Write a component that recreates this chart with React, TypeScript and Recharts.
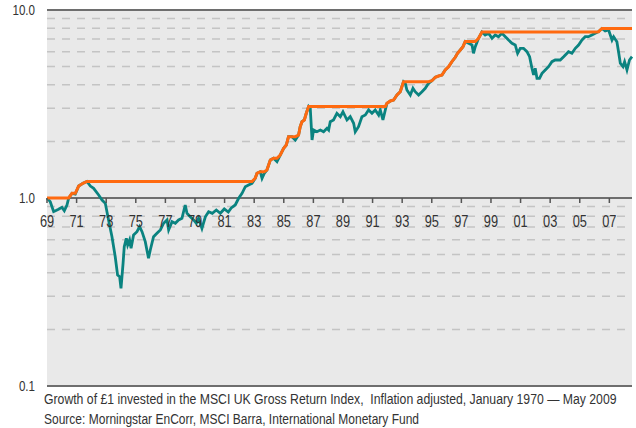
import React from 'react';
import {
  LineChart,
  Line,
  XAxis,
  YAxis,
  CartesianGrid,
  ReferenceLine,
  ReferenceDot,
} from 'recharts';

// decimal years, Jan 1970 – May 2009
const years = [
  1970.0, 1970.22, 1970.45, 1970.78, 1971.01, 1971.17, 1971.35, 1971.46, 1971.69, 1971.91,
  1972.14, 1972.43, 1972.7, 1972.93, 1973.15, 1973.49, 1973.72, 1973.94, 1974.16, 1974.39,
  1974.61, 1974.77, 1974.91, 1975.0, 1975.14, 1975.22, 1975.36, 1975.45, 1975.58, 1975.68,
  1975.85, 1976.08, 1976.26, 1976.42, 1976.64, 1976.86, 1976.98, 1977.2, 1977.43, 1977.66,
  1977.88, 1978.11, 1978.22, 1978.45, 1978.67, 1978.89, 1979.12, 1979.34, 1979.46, 1979.68,
  1979.91, 1980.09, 1980.24, 1980.47, 1980.7, 1980.92, 1981.17, 1981.44, 1981.71, 1981.98,
  1982.25, 1982.45, 1982.72, 1982.95, 1983.18, 1983.4, 1983.62, 1983.85, 1984.07, 1984.19,
  1984.41, 1984.53, 1984.68, 1984.86, 1985.09, 1985.31, 1985.54, 1985.76, 1985.99, 1986.17,
  1986.32, 1986.55, 1986.78, 1987.0, 1987.11, 1987.23, 1987.39, 1987.52, 1987.68, 1987.79,
  1987.91, 1988.01, 1988.24, 1988.47, 1988.69, 1988.92, 1989.03, 1989.14, 1989.36, 1989.59,
  1989.82, 1990.0, 1990.27, 1990.49, 1990.72, 1990.83, 1991.05, 1991.28, 1991.51, 1991.73,
  1991.96, 1992.18, 1992.41, 1992.52, 1992.7, 1992.86, 1992.97, 1993.2, 1993.42, 1993.65,
  1993.87, 1994.09, 1994.21, 1994.32, 1994.55, 1994.73, 1994.88, 1995.11, 1995.34, 1995.56,
  1995.78, 1996.01, 1996.24, 1996.46, 1996.69, 1996.91, 1997.14, 1997.36, 1997.59, 1997.74,
  1997.93, 1998.11, 1998.26, 1998.49, 1998.72, 1998.82, 1998.94, 1999.16, 1999.39, 1999.61,
  1999.84, 2000.07, 2000.29, 2000.51, 2000.74, 2000.97, 2001.19, 2001.42, 2001.64, 2001.8,
  2001.98, 2002.2, 2002.43, 2002.61, 2002.77, 2002.88, 2002.99, 2003.11, 2003.28, 2003.45,
  2003.67, 2003.89, 2004.12, 2004.34, 2004.68, 2004.91, 2005.24, 2005.47, 2005.7, 2005.92,
  2006.15, 2006.37, 2006.59, 2006.82, 2007.05, 2007.27, 2007.5, 2007.72, 2007.95, 2008.18,
  2008.29, 2008.51, 2008.62, 2008.74, 2008.92, 2009.03, 2009.19, 2009.36, 2009.53,
];

// growth of £1, inflation adjusted
const realValue = [
  1.0, 0.956, 0.846, 0.871, 0.892, 0.856, 0.918, 0.996, 1.059, 1.05,
  1.158, 1.197, 1.224, 1.158, 1.126, 1.037, 0.976, 0.937, 0.764, 0.622,
  0.487, 0.389, 0.381, 0.331, 0.449, 0.551, 0.61, 0.562, 0.598, 0.54,
  0.636, 0.662, 0.704, 0.662, 0.586, 0.478, 0.529, 0.622, 0.649, 0.676,
  0.734, 0.764, 0.676, 0.748, 0.734, 0.764, 0.78, 0.918, 0.829, 0.795,
  0.764, 0.734, 0.78, 0.69, 0.795, 0.846, 0.829, 0.863, 0.829, 0.874,
  0.842, 0.885, 0.918, 0.996, 1.059, 1.148, 1.172, 1.197, 1.273, 1.353,
  1.38, 1.273, 1.353, 1.409, 1.593, 1.626, 1.56, 1.693, 1.838, 1.914,
  2.119, 2.119, 2.035, 2.163, 2.395, 2.546, 2.6, 2.822, 3.067, 3.0,
  2.035, 2.3, 2.252, 2.3, 2.252, 2.348, 2.3, 2.546, 2.6, 2.822,
  2.706, 2.877, 2.6, 2.706, 2.496, 2.252, 2.395, 2.706, 2.763, 2.938,
  2.822, 2.938, 2.763, 2.938, 2.6, 2.938, 3.189, 3.281, 3.321, 3.531,
  3.676, 4.156, 4.075, 3.754, 3.531, 3.833, 3.676, 3.531, 3.676, 3.833,
  4.075, 4.207, 4.385, 4.456, 4.511, 4.797, 4.995, 5.309, 5.603, 5.884,
  6.127, 6.38, 6.8, 6.652, 6.515, 5.884, 6.38, 7.072, 7.64, 7.362,
  7.516, 7.072, 7.362, 7.211, 7.516, 7.211, 6.925, 6.652, 6.515, 5.884,
  6.256, 6.256, 6.0, 5.644, 4.897, 4.511, 4.897, 4.332, 4.332, 4.606,
  4.797, 4.995, 5.309, 5.42, 5.42, 5.644, 6.0, 5.884, 6.256, 6.515,
  6.925, 7.211, 7.211, 7.362, 7.516, 7.665, 7.973, 7.731, 7.827, 6.925,
  7.211, 6.784, 6.0, 5.206, 4.995, 5.309, 4.797, 5.42, 5.644,
];

const tickYears = [
  1970, 1972, 1974, 1976, 1978, 1980, 1982, 1984, 1986, 1988,
  1990, 1992, 1994, 1996, 1998, 2000, 2002, 2004, 2006, 2008,
];
const tickLabels = [
  '69', '71', '73', '75', '77', '79', '81', '83', '85', '87',
  '89', '91', '93', '95', '97', '99', '01', '03', '05', '07',
];

const yTicks = [0.1, 1, 10];
const majorLines = [0.1, 1, 10];
const minorLines = [0.2, 0.3, 0.4, 0.5, 0.6, 0.7, 0.8, 0.9, 2, 3, 4, 5, 6, 7, 8, 9];

const captionLines = [
  'Growth of £1 invested in the MSCI UK Gross Return Index,  Inflation adjusted, January 1970 — May 2009',
  'Source: Morningstar EnCorr, MSCI Barra, International Monetary Fund',
];

const FONT = "'Liberation Sans', Arial, sans-serif";
const SQUEEZE = 0.8; // condensed look

// previous high line = running maximum of the index
let high = 0;
const data = years.map((t, i) => {
  high = Math.max(high, realValue[i]);
  return { t, value: realValue[i], peak: high };
});

const NarrowText = ({ x, y, size, anchor, dy, squeeze = SQUEEZE, children }: any) => (
  <text
    transform={`translate(${x},${y}) scale(${squeeze},1)`}
    textAnchor={anchor}
    dy={dy}
    fill="#333"
    fontSize={size}
    fontFamily={FONT}
    style={{ whiteSpace: 'pre' }}
  >
    {children}
  </text>
);

const YearTick = (props: any) => {
  const { cx, cy, label } = props;
  return (
    <g>
      <line x1={cx} y1={cy} x2={cx} y2={cy + 5} stroke="#555" strokeWidth={1.5} />
      <NarrowText x={cx} y={cy + 29} size={16} anchor="middle">
        {label}
      </NarrowText>
    </g>
  );
};

const ValueTick = (props: any) => {
  const { x, y, payload } = props;
  const v = payload.value;
  return (
    <NarrowText x={x} y={y} size={14.5} anchor="end" dy="0.36em">
      {v >= 1 ? v.toFixed(1) : String(v)}
    </NarrowText>
  );
};

export default function App() {
  return (
    <div style={{ position: 'absolute', left: 0, top: 0, width: 636, height: 428, background: '#fff' }}>
      <LineChart width={636} height={428} data={data} margin={{ top: 10, right: 4, bottom: 42, left: 0 }}>
        <CartesianGrid fill="#e9e9e9" fillOpacity={1} stroke="none" horizontal={false} vertical={false} />
        <XAxis dataKey="t" type="number" domain={['dataMin', 'dataMax']} hide />
        <YAxis
          type="number"
          scale="log"
          domain={[0.1, 10]}
          ticks={yTicks}
          allowDataOverflow
          width={47}
          axisLine={false}
          tickLine={false}
          tickMargin={6}
          tick={<ValueTick />}
        />

        {minorLines.map(v => (
          <ReferenceLine key={'m' + v} y={v} stroke="#c4c4c4" strokeWidth={1.5} strokeDasharray="8 7" />
        ))}
        {majorLines.map(v => (
          <ReferenceLine key={'M' + v} y={v} stroke="#6e6e6e" strokeWidth={2} />
        ))}
        {tickYears.map((t, i) => (
          <ReferenceDot
            key={t}
            x={t}
            y={1}
            r={0}
            ifOverflow="visible"
            shape={(p: any) => <YearTick {...p} label={tickLabels[i]} />}
          />
        ))}

        <Line
          type="linear"
          dataKey="value"
          stroke="#0a8380"
          strokeWidth={2.8}
          dot={false}
          isAnimationActive={false}
        />
        <Line
          type="linear"
          dataKey="peak"
          stroke="#ff6a10"
          strokeWidth={3}
          dot={false}
          isAnimationActive={false}
        />
      </LineChart>
      <svg width={636} height={40} style={{ position: 'absolute', left: 0, top: 388 }}>
        <NarrowText x={44} y={16} size={15.5} anchor="start" squeeze={0.79}>
          {captionLines[0]}
        </NarrowText>
        <NarrowText x={44} y={36} size={15.5} anchor="start" squeeze={0.775}>
          {captionLines[1]}
        </NarrowText>
      </svg>
    </div>
  );
}
